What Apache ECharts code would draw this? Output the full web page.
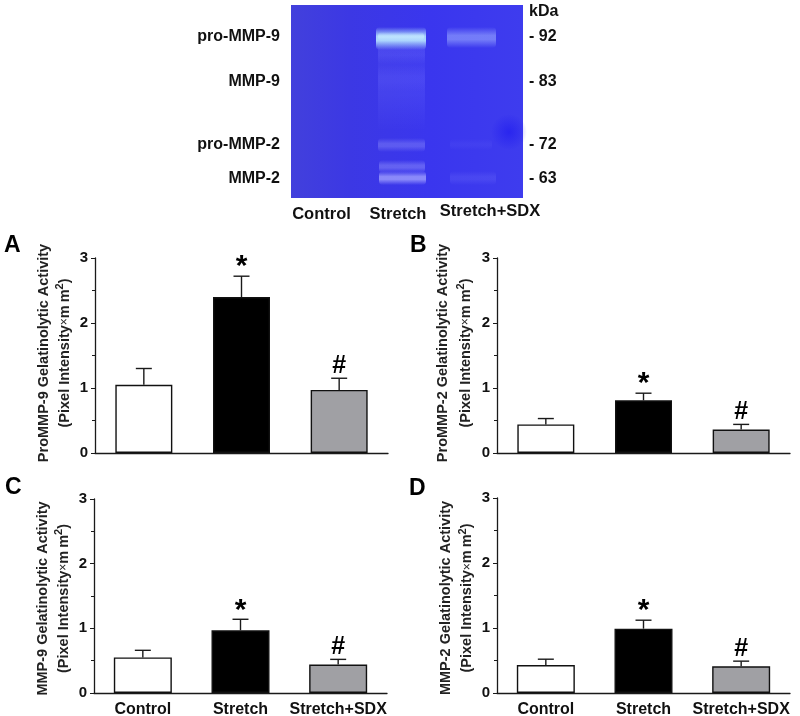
<!DOCTYPE html>
<html><head><meta charset="utf-8">
<style>html,body{margin:0;padding:0;background:#fff}#c{width:800px;height:716px}</style>
<script src="https://cdn.jsdelivr.net/npm/echarts@6/dist/echarts.min.js"></script>
</head><body><div id="c"></div>
<script>
const categories = ['Control', 'Stretch', 'Stretch+SDX'];
const marks = ['', '*', '#'];
const yTicks = [0, 1, 2, 3];
const meansA = [1.05, 2.40, 0.97], errTopA = [1.30, 2.72, 1.15];
const meansB = [0.44, 0.81, 0.36], errTopB = [0.53, 0.92, 0.44];
const meansC = [0.55, 0.97, 0.44], errTopC = [0.66, 1.14, 0.52];
const meansD = [0.43, 0.99, 0.41], errTopD = [0.52, 1.12, 0.49];
const titles = ['ProMMP-9 Gelatinolytic Activity', 'ProMMP-2 Gelatinolytic Activity', 'MMP-9 Gelatinolytic Activity', 'MMP-2 Gelatinolytic Activity'];
const panelLetters = ['A', 'B', 'C', 'D'];
const barColors = ['#ffffff', '#000000', '#a0a0a4'];
const gelRows = [['pro-MMP-9', '- 92', 37], ['MMP-9', '- 83', 82], ['pro-MMP-2', '- 72', 145], ['MMP-2', '- 63', 179]];
const gelLanes = [['Control', 321.5, 214], ['Stretch', 398, 214], ['Stretch+SDX', 490, 211]];
// soft gel bands: [x, y, w, h, r, g, b, peak alpha]
const gelBands = [
  [378, 40, 47, 90, 110, 110, 255, 0.2],
  [378, 42, 47, 22, 120, 120, 255, 0.22],
  [378, 66, 47, 26, 110, 110, 255, 0.12],
  [378, 138, 47, 14, 140, 140, 250, 0.42],
  [379, 160, 46, 13, 140, 140, 250, 0.5],
  [379, 171, 47, 14, 165, 165, 255, 0.75],
  [376, 27, 50, 23, 180, 225, 255, 0.92],
  [378, 32, 46, 9, 205, 240, 255, 0.5],
  [447, 27, 49, 21, 150, 165, 255, 0.62],
  [450, 139, 42, 11, 110, 110, 250, 0.12],
  [450, 171, 46, 14, 120, 120, 250, 0.22]
];

const panels = [
  { x: 95,  top: 258, bottom: 453, means: meansA, err: errTopA, letter: [4, 246], nameGap: 20, lh: 21, pad: [0, 0, 0, 5], bw: 57 },
  { x: 497, top: 258, bottom: 453, means: meansB, err: errTopB, letter: [410, 246], nameGap: 20, lh: 23, pad: [0, 0, 0, 5], bw: 57 },
  { x: 94,  top: 499, bottom: 693, means: meansC, err: errTopC, letter: [5, 488], nameGap: 20, lh: 21, pad: [0, 5, 0, 0], bw: 58 },
  { x: 497, top: 498, bottom: 693, means: meansD, err: errTopD, letter: [409, 489], nameGap: 18, lh: 21, pad: [0, 5, 0, 0], bw: 58 }
];
const W = 800, H = 716, plotW = 293;
const font = '"Liberation Sans", Arial, sans-serif';

const grid = [], xAxis = [], yAxis = [], series = [], graphic = [];
panels.forEach((p, i) => {
  grid.push({ left: p.x, width: plotW, top: p.top, height: p.bottom - p.top, containLabel: false, outerBoundsMode: 'none' });
  xAxis.push({
    type: 'category', gridIndex: i, data: categories,
    axisLine: { lineStyle: { color: '#1a1a1a', width: 1.3 } },
    axisTick: { alignWithLabel: true, length: 4, lineStyle: { color: '#1a1a1a', width: 1 } },
    axisLabel: { show: i >= 2, interval: 0, color: '#111', fontFamily: font, fontWeight: 'bold', fontSize: 16, margin: 9 }
  });
  yAxis.push({
    type: 'value', gridIndex: i, min: yTicks[0], max: yTicks[yTicks.length - 1], interval: 1,
    splitLine: { show: false },
    axisLine: { show: true, lineStyle: { color: '#1a1a1a', width: 1.3 } },
    axisTick: { show: true, length: 4, lineStyle: { color: '#1a1a1a', width: 1 } },
    minorTick: { show: true, splitNumber: 2, length: 3, lineStyle: { color: '#1a1a1a', width: 1 } },
    axisLabel: { color: '#111', fontFamily: font, fontWeight: 'bold', fontSize: 15, margin: 7 },
    name: '{t|' + titles[i] + '}\n{t|(Pixel Intensity}{x|×}{t|m\u2009m}{s|2}{t|)}',
    nameLocation: 'middle', nameRotate: 90, nameGap: p.nameGap,
    nameTextStyle: {
      color: '#222', lineHeight: p.lh, padding: p.pad,
      rich: {
        t: { fontFamily: font, fontWeight: 'bold', fontSize: 14.5, color: '#222', lineHeight: p.lh },
        x: { fontFamily: font, fontSize: 12, color: '#222', lineHeight: p.lh },
        s: { fontFamily: font, fontWeight: 'bold', fontSize: 11, color: '#222', padding: [0, 0, 9, 0], lineHeight: p.lh }
      }
    }
  });
  series.push({
    type: 'bar', xAxisIndex: i, yAxisIndex: i, barWidth: p.bw, silent: true,
    data: p.means.map((v, k) => ({ value: v, itemStyle: { color: barColors[k] } })),
    itemStyle: { borderColor: '#111', borderWidth: 1.4 }
  });
  series.push({
    type: 'custom', xAxisIndex: i, yAxisIndex: i, silent: true, z: 1,
    data: p.means.map((v, k) => [k, v, p.err[k], marks[k]]),
    renderItem(params, api) {
      const base = api.coord([api.value(0), api.value(1)]);
      const top = api.coord([api.value(0), api.value(2)]);
      const m = marks[params.dataIndex], cap = 8;
      const kids = [
        { type: 'line', shape: { x1: base[0], y1: base[1], x2: top[0], y2: top[1] }, style: { stroke: '#1a1a1a', lineWidth: 1.4 } },
        { type: 'line', shape: { x1: top[0] - cap, y1: top[1], x2: top[0] + cap, y2: top[1] }, style: { stroke: '#1a1a1a', lineWidth: 1.4 } }
      ];
      if (m) kids.push({
        type: 'text',
        style: { text: m, x: top[0], y: top[1] + (m === '*' ? 6 : 0), align: 'center', verticalAlign: 'bottom',
          fill: '#000', font: 'bold ' + (m === '*' ? 30 : 25) + 'px ' + font }
      });
      return { type: 'group', children: kids };
    }
  });
  graphic.push({ type: 'text', silent: true, style: { text: panelLetters[i], x: p.letter[0], y: p.letter[1], verticalAlign: 'middle', fill: '#000', font: 'bold 23px ' + font } });
});

// gel picture
const fade = b => ({ type: 'linear', x: 0, y: 0, x2: 0, y2: 1, colorStops: [
  { offset: 0, color: `rgba(${b[4]},${b[5]},${b[6]},0)` },
  { offset: 0.4, color: `rgba(${b[4]},${b[5]},${b[6]},${b[7]})` },
  { offset: 0.6, color: `rgba(${b[4]},${b[5]},${b[6]},${b[7]})` },
  { offset: 1, color: `rgba(${b[4]},${b[5]},${b[6]},0)` }] });
graphic.push({ type: 'group', silent: true, children: [
  { type: 'rect', shape: { x: 291, y: 5, width: 232, height: 193 },
    style: { fill: { type: 'linear', x: 0, y: 0, x2: 1, y2: 0, colorStops: [
      { offset: 0, color: '#4240dc' }, { offset: 0.25, color: '#3c38e4' }, { offset: 0.6, color: '#3a36ee' }, { offset: 1, color: '#3e3cee' }] } } },
  ...gelBands.map(b => ({ type: 'rect', shape: { x: b[0], y: b[1], width: b[2], height: b[3], r: 4 }, style: { fill: fade(b) } })),
  { type: 'circle', shape: { cx: 509, cy: 132, r: 18 }, style: { fill: { type: 'radial', x: 0.5, y: 0.5, r: 0.5, colorStops: [
      { offset: 0, color: 'rgba(25,20,240,0.55)' }, { offset: 1, color: 'rgba(25,20,240,0)' }] } } }
] });
gelRows.forEach(r => {
  graphic.push({ type: 'text', silent: true, style: { text: r[0], x: 280, y: r[2], align: 'right', verticalAlign: 'middle', fill: '#111', font: 'bold 16px ' + font } });
  graphic.push({ type: 'text', silent: true, style: { text: r[1], x: 529, y: r[2], verticalAlign: 'middle', fill: '#111', font: 'bold 16px ' + font } });
});
graphic.push({ type: 'text', silent: true, style: { text: 'kDa', x: 529, y: 12, verticalAlign: 'middle', fill: '#111', font: 'bold 16px ' + font } });
gelLanes.forEach(l => {
  graphic.push({ type: 'text', silent: true, style: { text: l[0], x: l[1], y: l[2], align: 'center', verticalAlign: 'middle', fill: '#111', font: 'bold 16.5px ' + font } });
});

const chart = echarts.init(document.getElementById('c'), null, { renderer: 'canvas', width: W, height: H });
chart.setOption({ animation: false, backgroundColor: '#fff', tooltip: { show: false }, grid, xAxis, yAxis, series, graphic });
</script></body></html>
